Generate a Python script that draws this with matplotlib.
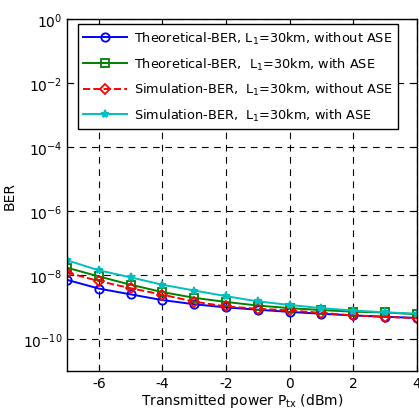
import matplotlib

matplotlib.use("Agg")

import matplotlib.pyplot as plt

# transmitted power (dBm)
power_dbm = [-7, -6, -5, -4, -3, -2, -1, 0, 1, 2, 3, 4]

# BER curves
ber_theo_no_ase = [7.1e-9, 3.8e-9, 2.5e-9, 1.66e-9, 1.23e-9, 9.8e-10,
                   8.3e-10, 7.1e-10, 6.2e-10, 5.5e-10, 5.0e-10, 4.6e-10]
ber_theo_ase = [1.7e-8, 9.1e-9, 5.0e-9, 2.95e-9, 1.95e-9, 1.45e-9,
                1.12e-9, 9.3e-10, 8.1e-10, 7.2e-10, 6.8e-10, 6.0e-10]
ber_sim_no_ase = [1.2e-8, 6.5e-9, 3.9e-9, 2.45e-9, 1.48e-9, 1.05e-9,
                  8.9e-10, 7.9e-10, 6.6e-10, 5.5e-10, 5.0e-10, 4.5e-10]
ber_sim_ase = [2.9e-8, 1.41e-8, 8.5e-9, 5.0e-9, 3.3e-9, 2.2e-9,
               1.51e-9, 1.17e-9, 9.3e-10, 7.8e-10, 6.9e-10, 6.2e-10]

labels = [
    "Theoretical-BER, L$_1$=30km, without ASE",
    "Theoretical-BER,  L$_1$=30km, with ASE",
    "Simulation-BER,  L$_1$=30km, without ASE",
    "Simulation-BER,  L$_1$=30km, with ASE",
]

plt.rcParams["font.family"] = ["DejaVu Sans"]
plt.rcParams["mathtext.default"] = "regular"
plt.rcParams["axes.unicode_minus"] = False  # plain hyphens like the original

fig = plt.figure(figsize=(4.19, 4.14), dpi=100)
ax = fig.add_axes([0.16, 0.101, 0.835, 0.851])

ax.semilogy(power_dbm, ber_theo_no_ase, "-o", color="blue", mfc="none",
            ms=6, mew=1.3, lw=1.4, label=labels[0])
ax.semilogy(power_dbm, ber_theo_ase, "-s", color="green", mfc="none",
            ms=6, mew=1.3, lw=1.4, label=labels[1])
ax.semilogy(power_dbm, ber_sim_no_ase, "--D", color="red", mfc="none",
            ms=5.5, mew=1.3, lw=1.4, label=labels[2])
ax.semilogy(power_dbm, ber_sim_ase, "-*", color="#00bfbf",
            ms=6, mew=1.3, lw=1.4, label=labels[3])

ax.set_xlim(-7, 4)
ax.set_ylim(1e-11, 1)
ax.set_xticks([-6, -4, -2, 0, 2, 4])
ax.set_yticks([1e0, 1e-2, 1e-4, 1e-6, 1e-8, 1e-10])
ax.minorticks_off()
ax.tick_params(direction="in", top=True, right=True, labelsize=10, length=4)
ax.grid(True, color="black", linestyle=(0, (6, 5)), linewidth=0.8)
for spine in ax.spines.values():
    spine.set_linewidth(1.0)

ax.set_xlabel("Transmitted power P$_{tx}$ (dBm)", fontsize=10, labelpad=1)
ax.set_ylabel("BER", fontsize=10)

leg = ax.legend(loc="upper left", bbox_to_anchor=(0.03, 0.986),
                fontsize=9.3, frameon=True, fancybox=False, framealpha=1,
                edgecolor="black", handlelength=3.4, labelspacing=0.75,
                borderpad=0.45, handletextpad=0.5, borderaxespad=0)
leg.get_frame().set_linewidth(1.0)

fig.savefig("out.png", dpi=100)
